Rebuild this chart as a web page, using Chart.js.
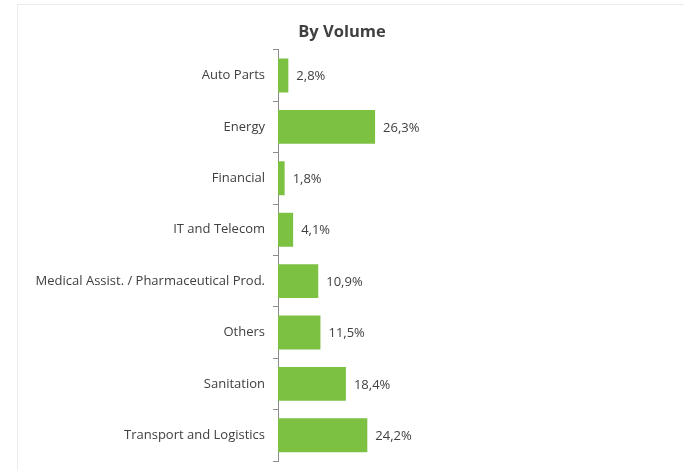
<!DOCTYPE html>
<html>
<head>
<meta charset="utf-8">
<script src="https://cdn.jsdelivr.net/npm/chart.js@4"></script>
<style>
html,body{margin:0;padding:0;background:#fff;}
#wrap{width:684px;height:471px;position:relative;}
</style>
</head>
<body>
<div id="wrap"><canvas id="c" width="684" height="471"></canvas></div>
<script>
const categories = ["Auto Parts","Energy","Financial","IT and Telecom","Medical Assist. / Pharmaceutical Prod.","Others","Sanitation","Transport and Logistics"];
const values = [2.8, 26.3, 1.8, 4.1, 10.9, 11.5, 18.4, 24.2];
const valueLabels = ["2,8%","26,3%","1,8%","4,1%","10,9%","11,5%","18,4%","24,2%"];
const chartTitle = "By Volume";

const FONT = "'Open Sans', 'Liberation Sans', sans-serif";
const TEXT = "#404040";

const framePlugin = {
  id: 'frame',
  beforeDraw(chart) {
    const ctx = chart.ctx;
    ctx.save();
    ctx.fillStyle = '#fff';
    ctx.fillRect(0, 0, chart.width, chart.height);
    ctx.strokeStyle = '#ebebeb';
    ctx.lineWidth = 1;
    ctx.beginPath();
    ctx.moveTo(17.5, chart.height);
    ctx.lineTo(17.5, 4.5);
    ctx.lineTo(chart.width, 4.5);
    ctx.stroke();
    ctx.restore();
  }
};

const valueLabelPlugin = {
  id: 'valueLabels',
  afterDatasetsDraw(chart) {
    const ctx = chart.ctx;
    const meta = chart.getDatasetMeta(0);
    ctx.save();
    ctx.font = "13px " + FONT;
    ctx.fillStyle = TEXT;
    ctx.textAlign = 'left';
    ctx.textBaseline = 'middle';
    meta.data.forEach((bar, i) => {
      ctx.fillText(valueLabels[i], bar.x + 8, bar.y + 1);
    });
    ctx.restore();
  }
};

new Chart(document.getElementById('c'), {
  type: 'bar',
  data: {
    labels: categories,
    datasets: [{
      data: values,
      backgroundColor: '#7dc143',
      borderWidth: 0,
      categoryPercentage: 1.0,
      barPercentage: 0.66
    }]
  },
  options: {
    indexAxis: 'y',
    responsive: false,
    animation: false,
    devicePixelRatio: 1,
    layout: { padding: { left: 0, right: 0, top: 0, bottom: 10 } },
    plugins: {
      legend: { display: false },
      tooltip: { enabled: false },
      title: {
        display: true,
        text: chartTitle,
        color: TEXT,
        font: { family: FONT, size: 16.5, weight: 'bold' },
        padding: { top: 22, bottom: 8 }
      }
    },
    scales: {
      x: {
        display: false,
        min: 0,
        max: 110
      },
      y: {
        afterFit(scale) {
          scale.width = 278;
          scale.paddingTop = 0;
          scale.paddingBottom = 0;
        },
        border: { display: true, color: '#8c8c8c', width: 1 },
        grid: {
          display: true,
          offset: true,
          drawOnChartArea: false,
          drawTicks: true,
          tickLength: 5,
          color: '#8c8c8c'
        },
        ticks: {
          color: TEXT,
          padding: 8,
          font: { family: FONT, size: 13 }
        }
      }
    }
  },
  plugins: [framePlugin, valueLabelPlugin]
});
</script>
</body>
</html>
